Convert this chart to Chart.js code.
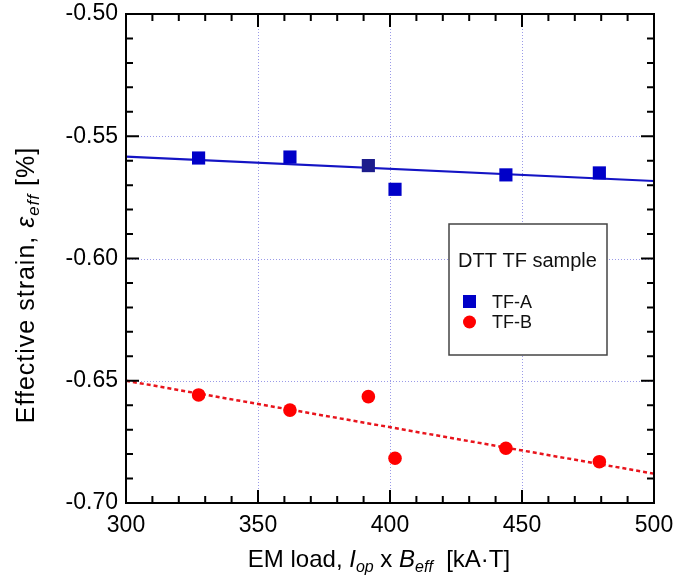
<!DOCTYPE html>
<html lang="en">
<head>
  <meta charset="UTF-8">
  <title>Effective strain vs EM load</title>
  <style>
    * { margin: 0; padding: 0; box-sizing: border-box; }
    body { background: #fff; width: 689px; height: 580px; overflow: hidden; }
    canvas { display: block; }
  </style>
  <script src="https://cdn.jsdelivr.net/npm/chart.js"></script>
</head>
<body>
  <canvas id="strainChart" width="689" height="580"></canvas>

  <script>
    // data
    const emLoad   = [327.5, 362.1, 391.8, 401.9, 443.9, 479.3];
    const strainA  = [-0.5589, -0.5585, -0.5620, -0.5717, -0.5658, -0.5650];
    const strainB  = [-0.6558, -0.6620, -0.6565, -0.6817, -0.6776, -0.6831];
    const fitX     = [300, 500];
    const fitA     = [-0.5583, -0.5683];
    const fitB     = [-0.6500, -0.6880];
    const xTicks   = [300, 350, 400, 450, 500];
    const yTicks   = [-0.70, -0.65, -0.60, -0.55, -0.50];

    const FONT = '"Liberation Sans", Arial, sans-serif';
    const toPts = (xs, ys) => xs.map((x, i) => ({ x: x, y: ys[i] }));

    function richWidth(ctx, parts) {
      let w = 0;
      parts.forEach(p => { ctx.font = p.font; w += ctx.measureText(p.t).width; });
      return w;
    }
    function drawRich(ctx, parts, x, y) {
      let cx = x;
      parts.forEach(p => {
        ctx.font = p.font;
        ctx.fillText(p.t, cx, y + (p.dy || 0));
        cx += ctx.measureText(p.t).width;
      });
    }

    const framePlugin = {
      id: 'frame',
      beforeDatasetsDraw(chart) {
        const { ctx, chartArea: a, scales: { x, y } } = chart;
        ctx.save();
        ctx.strokeStyle = '#9a9ae8';
        ctx.lineWidth = 1;
        ctx.setLineDash([1, 2]);
        xTicks.slice(1, -1).forEach(v => {
          const px = Math.round(x.getPixelForValue(v)) + 0.5;
          ctx.beginPath(); ctx.moveTo(px, a.top); ctx.lineTo(px, a.bottom); ctx.stroke();
        });
        yTicks.slice(1, -1).forEach(v => {
          const py = Math.round(y.getPixelForValue(v)) + 0.5;
          ctx.beginPath(); ctx.moveTo(a.left, py); ctx.lineTo(a.right, py); ctx.stroke();
        });
        ctx.restore();
      },
      afterDatasetsDraw(chart) {
        const { ctx, chartArea: a, scales: { x, y } } = chart;
        ctx.save();
        ctx.strokeStyle = '#000';
        ctx.lineWidth = 2;
        ctx.strokeRect(a.left, a.top, a.right - a.left, a.bottom - a.top);

        // inward ticks on all four sides
        ctx.beginPath();
        for (let v = 300; v <= 500; v += 10) {
          const len = (v % 50 === 0) ? 13 : 7;
          const px = x.getPixelForValue(v);
          ctx.moveTo(px, a.bottom); ctx.lineTo(px, a.bottom - len);
          ctx.moveTo(px, a.top); ctx.lineTo(px, a.top + len);
        }
        for (let k = 0; k <= 20; k++) {
          const v = -0.70 + k * 0.01;
          const len = (k % 5 === 0) ? 13 : 7;
          const py = y.getPixelForValue(v);
          ctx.moveTo(a.left, py); ctx.lineTo(a.left + len, py);
          ctx.moveTo(a.right, py); ctx.lineTo(a.right - len, py);
        }
        ctx.stroke();

        // legend box
        const lx = a.left + 323, ly = a.top + 210;
        ctx.fillStyle = '#fff';
        ctx.fillRect(lx, ly, 158, 131);
        ctx.strokeStyle = '#444';
        ctx.lineWidth = 1.5;
        ctx.strokeRect(lx, ly, 158, 131);
        ctx.fillStyle = '#111';
        ctx.textBaseline = 'alphabetic';
        ctx.font = '20px ' + FONT;
        ctx.fillText('DTT TF sample', lx + 9, ly + 43);
        ctx.fillStyle = '#0000c8';
        ctx.fillRect(lx + 14, ly + 71, 13, 13);
        ctx.fillStyle = '#ff0000';
        ctx.beginPath(); ctx.arc(lx + 20.5, ly + 98, 6.5, 0, Math.PI * 2); ctx.fill();
        ctx.fillStyle = '#111';
        ctx.font = '18px ' + FONT;
        ctx.fillText('TF-A', lx + 43, ly + 84);
        ctx.fillText('TF-B', lx + 43, ly + 104);

        // axis titles with italic subscripts
        ctx.fillStyle = '#000';
        const big = '24px ' + FONT, it = 'italic 24px ' + FONT, sub = 'italic 16px ' + FONT;
        const xt = [
          { t: 'EM load, ', font: big },
          { t: 'I', font: it },
          { t: 'op', font: sub, dy: 5 },
          { t: ' x ', font: big },
          { t: 'B', font: it },
          { t: 'eff', font: sub, dy: 5 },
          { t: '  [kA\u00b7T]', font: big }
        ];
        drawRich(ctx, xt, 379 - richWidth(ctx, xt) / 2, 567);

        const ybig = '25px ' + FONT, yit = 'italic 25px ' + FONT, ysub = 'italic 17px ' + FONT;
        const yt = [
          { t: 'Effective strain, ', font: ybig },
          { t: '\u03b5', font: yit },
          { t: 'eff', font: ysub, dy: 5 },
          { t: ' [%]', font: ybig }
        ];
        ctx.letterSpacing = '1px';
        ctx.translate(34, 285);
        ctx.rotate(-Math.PI / 2);
        drawRich(ctx, yt, -richWidth(ctx, yt) / 2, 0);
        ctx.restore();
      }
    };

    const ctx = document.getElementById('strainChart').getContext('2d');
    new Chart(ctx, {
      type: 'scatter',
      data: {
        datasets: [
          {
            label: 'TF-A',
            data: toPts(emLoad, strainA),
            pointStyle: 'rect',
            pointRadius: 9.3,
            pointBackgroundColor: ['#0000c8', '#0000c8', '#1c1c8c', '#0000c8', '#0000c8', '#0000c8'],
            pointBorderWidth: 0,
            order: 1
          },
          {
            label: 'TF-B',
            data: toPts(emLoad, strainB),
            pointStyle: 'circle',
            pointRadius: 6.8,
            pointBackgroundColor: '#ff0000',
            pointBorderWidth: 0,
            order: 2
          },
          {
            label: 'fit A',
            data: toPts(fitX, fitA),
            showLine: true,
            pointRadius: 0,
            borderColor: '#1414c4',
            borderWidth: 2.2,
            order: 3
          },
          {
            label: 'fit B',
            data: toPts(fitX, fitB),
            showLine: true,
            pointRadius: 0,
            borderColor: '#e8141c',
            borderWidth: 2.5,
            borderDash: [4, 3],
            order: 4
          }
        ]
      },
      options: {
        responsive: false,
        animation: false,
        devicePixelRatio: 1,
        layout: { padding: { left: 0, top: 14, right: 35, bottom: 0 } },
        plugins: {
          legend: { display: false },
          tooltip: { enabled: false }
        },
        scales: {
          x: {
            type: 'linear',
            min: 300,
            max: 500,
            afterFit: s => { s.height = 77; s.paddingLeft = 0; s.paddingRight = 0; },
            afterBuildTicks: s => { s.ticks = xTicks.map(v => ({ value: v })); },
            grid: { display: false, drawTicks: false },
            border: { display: false },
            ticks: {
              padding: 9,
              maxRotation: 0,
              minRotation: 0,
              autoSkip: false,
              color: '#000',
              font: { family: FONT, size: 23 },
              callback: v => String(v)
            }
          },
          y: {
            type: 'linear',
            min: -0.70,
            max: -0.50,
            afterFit: s => { s.width = 126; s.paddingTop = 0; s.paddingBottom = 0; },
            afterBuildTicks: s => { s.ticks = yTicks.map(v => ({ value: v })); },
            grid: { display: false, drawTicks: false },
            border: { display: false },
            ticks: {
              padding: 8,
              autoSkip: false,
              color: '#000',
              font: { family: FONT, size: 23 },
              callback: v => v.toFixed(2)
            }
          }
        }
      },
      plugins: [framePlugin]
    });
  </script>
</body>
</html>
